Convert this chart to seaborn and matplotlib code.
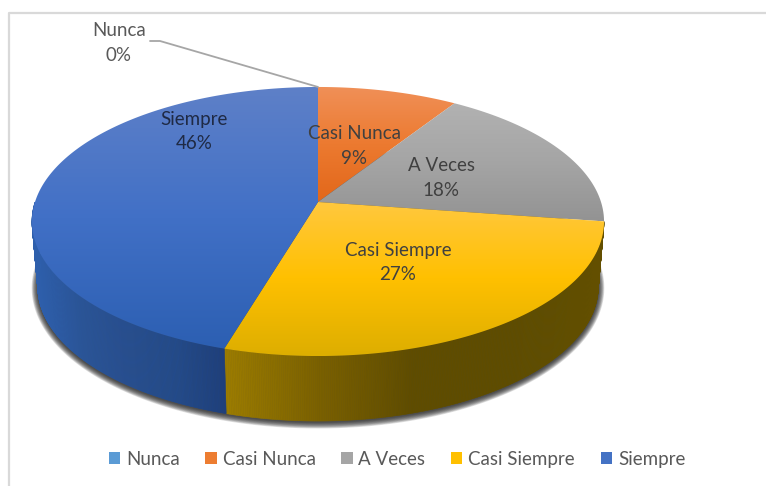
import numpy as np
import matplotlib
matplotlib.use("Agg")
import matplotlib.pyplot as plt
import seaborn as sns
from matplotlib.patches import Patch, Polygon

categories = ["Nunca", "Casi Nunca", "A Veces", "Casi Siempre", "Siempre"]
shares = [0, 9.1, 18.2, 27.3, 45.4]
pct_labels = ["0%", "9%", "18%", "27%", "46%"]

legend_colors = ["#5B9BD5", "#ED7D31", "#A5A5A5", "#FFC000", "#4472C4"]
top_colors = [
    ["#7DB0DE", "#5B9BD5", "#4A8AC4"],
    ["#F09058", "#EC7A30", "#E2671A"],
    ["#B2B2B2", "#A5A5A5", "#939393"],
    ["#FFC83F", "#FFC000", "#DDAE00"],
    ["#5E80C8", "#4170C6", "#2C5FB2"],
]
wall_colors = {
    3: ["#9C7C00", "#7A6000", "#5F4C00", "#5F4C00", "#634F00"],
    4: ["#2E5FAC", "#2A5598", "#274E90", "#234A8A", "#1E3F7C"],
}
label_pos = [(119, 43), (354, 146), (441, 178), (398, 262.5), (194, 131.5)]
label_colors = ["#595959", "#404040", "#404040", "#404040", "#1F2A44"]

# pie geometry in image pixels, k is the perspective of the tilted disc
cx, cy = 318, 202
bx, by, k = 283, 131.7, 0.145
depth, shrink = 65, 0.98


def top_rim(t):
    d = 1 + k * np.cos(t)
    return cx + bx * np.sin(t) / d, cy - by * np.cos(t) / d


def bottom_rim(t):
    x, y = top_rim(t)
    return cx + shrink * (x - cx), y + depth


sns.set_theme(style="white")
plt.rcParams["font.family"] = ["Lato", "DejaVu Sans"]

fig = plt.figure(figsize=(7.66, 4.86), dpi=100)
ax = fig.add_axes([0, 0, 1, 1])
ax.set_xlim(0, 766)
ax.set_ylim(486, 0)
ax.axis("off")

# frame of the chart area, only top and left are inside the crop
ax.plot([766, 9, 9], [13, 13, 486], color="#D9D9D9", lw=1.6, zorder=1)

# soft shadow under the pie
ring = np.linspace(0, 2 * np.pi, 361)
for grow in np.linspace(6, 0.5, 10):
    x, y = bottom_rim(ring)
    x = cx + (x - cx) * (1 + grow / 280)
    y = y + (y - y.mean()) * grow / 135 + 1
    ax.add_patch(Polygon(np.c_[x, y], closed=True, fc="#202020", ec="none",
                         alpha=0.14, zorder=2))

edges = np.radians(np.cumsum([0] + shares) * 360 / sum(shares))

# side wall, only the two front slices show it
for i, colors in wall_colors.items():
    cmap = sns.blend_palette(colors, as_cmap=True)
    ts = np.linspace(max(edges[i], np.pi / 2), min(edges[i + 1], 3 * np.pi / 2), 300)
    xs = top_rim(ts)[0]
    for t0, t1 in zip(ts[:-1], ts[1:]):
        x0, y0 = top_rim(t0)
        x1, y1 = top_rim(t1)
        x2, y2 = bottom_rim(t1)
        x3, y3 = bottom_rim(t0)
        pos = ((x0 + x1) / 2 - xs.min()) / (xs.max() - xs.min())
        ax.add_patch(Polygon([(x0, y0), (x1, y1), (x2, y2), (x3, y3)], closed=True,
                             fc=cmap(pos), ec=cmap(pos), lw=0.4, zorder=3))

# top face, a vertical gradient clipped to each slice
for i, share in enumerate(shares):
    if share == 0:
        continue
    ts = np.linspace(edges[i], edges[i + 1], 200)
    x, y = top_rim(ts)
    verts = np.vstack([[cx, cy], np.c_[x, y]])
    poly = Polygon(verts, closed=True, fc="none", ec="none", transform=ax.transData)
    ax.add_patch(poly)
    cmap = sns.blend_palette(top_colors[i], as_cmap=True)
    im = ax.imshow(np.linspace(0, 1, 256)[:, None], cmap=cmap, aspect="auto",
                   extent=[verts[:, 0].min(), verts[:, 0].max(),
                           verts[:, 1].max(), verts[:, 1].min()], zorder=4)
    im.set_clip_path(poly)
ax.set_xlim(0, 766)
ax.set_ylim(486, 0)

# leader line of the empty slice
start_x, start_y = top_rim(edges[0])
ax.plot([150, 160, start_x], [41, 41, start_y], color="#A6A6A6", lw=1.3, zorder=5)

for name, pct, (lx, ly), col in zip(categories, pct_labels, label_pos, label_colors):
    ax.text(lx, ly, f"{name}\n{pct}", ha="center", va="center", fontsize=13.5,
            color=col, linespacing=1.56, zorder=6)

handles = [Patch(facecolor=c, edgecolor="none") for c in legend_colors]
ax.legend(handles, categories, loc="center", bbox_to_anchor=(397 / 766, 1 - 459 / 486),
          ncol=5, frameon=False, fontsize=13.5, labelcolor="#595959",
          handlelength=0.6, handleheight=0.6, handletextpad=0.32, columnspacing=1.37,
          borderpad=0)

fig.savefig("out.png", dpi=100)
